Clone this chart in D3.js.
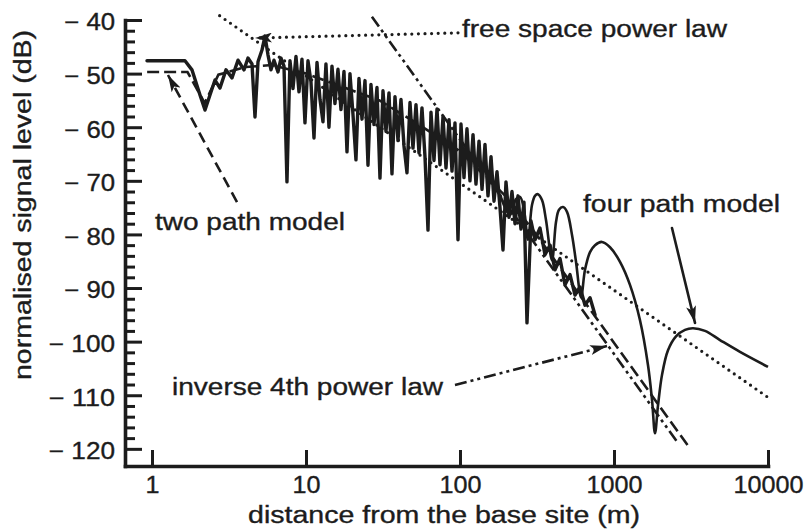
<!DOCTYPE html>
<html><head><meta charset="utf-8">
<script src="https://cdn.jsdelivr.net/npm/d3@7"></script>
<style>body{margin:0;background:#fff}svg{display:block}</style>
</head><body><svg id="c" width="804" height="529"></svg>
<script>
// ---------- data ----------
const measuredDist = [0.928,1.638,1.818,2.05,2.209,2.38,2.565,2.764,3.024,3.307,3.618,3.957,4.201,4.461,4.665,4.879,5.179,5.417,5.665,5.925,6.197,6.579,6.881,7.197,
 7.525,7.870,8.231,8.609,9.004,9.417,9.849,10.30,10.77,11.27,11.79,12.33,12.89,13.48,14.10,14.75,15.42,16.13,16.87,17.65,
 18.46,19.30,20.19,21.11,22.08,23.10,24.16,25.27,26.42,27.64,28.90,30.23,31.62,33.07,34.59,36.17,37.83,39.57,41.38,43.28,
 45.27,47.35,49.52,51.79,54.17,56.65,59.25,61.97,64.81,67.79,70.90,74.15,77.55,81.11,84.83,88.72,92.79,97.05,101.5,106.2,
 111.0,116.1,121.5,127.0,132.9,139.0,145.3,152.0,159.0,166.3,173.9,181.9,190.2,198.9,208.1,217.6,227.6,238.0,248.9,260.4,272.3,
 289.1,306.9,330.7,356.4,384.1,413.9,446.1,480.7,518.0,558.3,601.6,648.3,698.7,752.9];
const measuredLevel = [-47.6,-47.6,-49.3,-54.0,-56.8,-54.0,-51.2,-52.7,-49.3,-50.8,-47.5,-49.3,-47.1,-48.2,-58.1,-47.8,-45.6,-43.0,-46.5,-49.3,-47.5,-49.7,-47.1,-48.6,
 -70.2,-47.6,-52.8,-46.8,-53.4,-47.3,-59.2,-47.6,-51.5,-62.0,-47.9,-54.8,-59.0,-48.2,-60.0,-48.6,-55.6,-49.2,-56.7,-49.6,
 -64.6,-50.0,-57.6,-66.1,-50.9,-58.5,-51.3,-67.1,-52.0,-59.5,-52.6,-69.5,-53.2,-60.8,-53.6,-68.7,-54.3,-62.5,-54.8,-63.5,
 -68.5,-55.4,-63.9,-55.8,-64.8,-56.4,-65.5,-79.2,-57.2,-66.2,-56.6,-67.0,-58.0,-67.6,-58.6,-68.2,-59.2,-81.0,-59.4,-69.4,
 -60.3,-70.0,-61.4,-70.6,-62.6,-71.6,-63.2,-72.8,-65.5,-73.8,-68.3,-75.0,-82.9,-70.2,-76.8,-72.0,-78.0,-72.8,-79.0,-74.0,-96.5,
 -77.5,-81.0,-78.8,-83.8,-82.0,-86.6,-84.5,-89.4,-87.5,-91.3,-89.8,-93.2,-91.8,-95.0];

const fourPathDist = [181.9,211.2,231.0,245.2,260.4,276.4,293.4,306.9,321.0,340.8,361.8,395.7,420.2,439.4,466.6,495.3,533.8,566.6,610.7,648.3,698.7,752.9,835.7,941.9,1094,1270,1475,1663,1766,1846,1931,2050,2242,2527,2891,3258,3899,4879,6579,10000];
const fourPathLevel = [-72.6,-76.4,-73.4,-73.0,-75.4,-81.0,-74.5,-72.8,-72.5,-73.6,-77.3,-84.8,-77.7,-75.4,-74.9,-75.8,-80.1,-85.1,-91.7,-86.6,-83.3,-82.0,-81.4,-82.4,-85.1,-89.4,-96.0,-104.4,-110.9,-117.1,-111.9,-106.2,-101.6,-99.0,-97.8,-97.5,-98.0,-99.7,-101.9,-104.7];

const twoPathDist = [0.93,1.7,2.2,2.7,4,6,10,30,54,100,200,300,3020];
const twoPathLevel = [-49.7,-49.7,-55.5,-50.2,-48.8,-48.4,-50.0,-55.0,-59.5,-64.5,-73.0,-79.3,-119.4];

const freeSpaceDist = [2.75,10000];
const freeSpaceLevel = [-39.2,-110.4];

const inverse4Dist = [26.8,2600];
const inverse4Level = [-39.4,-118.9];

const xTickValues = [1,10,100,1000,10000];
const yTickValues = [-40,-50,-60,-70,-80,-90,-100,-110,-120];
const yMinorTickValues = d3.range(-42,-120,-2).filter(v => v % 10 !== 0);

const annotationText = ["two path model","free space power law","four path model","inverse 4th power law"];
const annotationDist = [1.046,103.0,629.0,1.349];
const annotationLevel = [-79.2,-43.2,-75.8,-110.0];

const arrowFromDist = [3.565,97.05,2380,92.8];
const arrowFromLevel = [-73.96,-42.4,-78.8,-108.1];
const arrowToDist = [1.27,4.665,3357,900.7];
const arrowToLevel = [-50.26,-43.36,-96.5,-100.8];

// ---------- drawing ----------
const ink = "#1c1c1c";
const font = "'Liberation Sans', Arial, Helvetica, sans-serif";
const svg = d3.select("#c");
svg.append("rect").attr("width",804).attr("height",529).attr("fill","#fff");

const x = d3.scaleLog().domain([0.668,10000]).range([125,768]);
const y = d3.scaleLinear().domain([-40,-123.2]).range([20,466]);

const defs = svg.append("defs");
defs.append("marker").attr("id","ah").attr("viewBox","0 0 17 10")
  .attr("refX",17).attr("refY",5).attr("markerWidth",17).attr("markerHeight",10)
  .attr("markerUnits","userSpaceOnUse").attr("orient","auto")
  .append("path").attr("d","M0,0 L17,5 L0,10 L4,5 Z").attr("fill",ink);

const lineGen = d3.line().x(d => x(d[0])).y(d => y(d[1]));
const zip = (a,b) => a.map((v,i) => [v,b[i]]);

// free space (dotted)
svg.append("path").datum(zip(freeSpaceDist,freeSpaceLevel)).attr("d",lineGen)
  .attr("fill","none").attr("stroke",ink).attr("stroke-width",3.2)
  .attr("stroke-linecap","round").attr("stroke-dasharray","0,6.6");
// inverse 4th (dash-dot-dot)
svg.append("path").datum(zip(inverse4Dist,inverse4Level)).attr("d",lineGen)
  .attr("fill","none").attr("stroke",ink).attr("stroke-width",2.6)
  .attr("stroke-dasharray","12,4,3,4,3,4");
// two path model (dashed)
svg.append("path").datum(zip(twoPathDist,twoPathLevel)).attr("d",lineGen)
  .attr("fill","none").attr("stroke",ink).attr("stroke-width",2.6)
  .attr("stroke-dasharray","12,5");
// four path model (solid, smooth)
svg.append("path").datum(zip(fourPathDist,fourPathLevel))
  .attr("d",d3.line().x(d=>x(d[0])).y(d=>y(d[1])).curve(d3.curveCatmullRom.alpha(0.5)))
  .attr("fill","none").attr("stroke",ink).attr("stroke-width",2.6).attr("stroke-linejoin","round");
// measured (jagged, heavy)
svg.append("path").datum(zip(measuredDist,measuredLevel)).attr("d",lineGen)
  .attr("fill","none").attr("stroke",ink).attr("stroke-width",3.4)
  .attr("stroke-linejoin","round").attr("stroke-linecap","round");

// axes
const gx = svg.append("g").attr("transform","translate(0,466)")
  .call(d3.axisBottom(x).tickValues(xTickValues).tickFormat(d3.format("d"))
    .tickSizeInner(-16).tickSizeOuter(0).tickPadding(0));
const gy = svg.append("g").attr("transform","translate(125,0)")
  .call(d3.axisLeft(y).tickValues(yTickValues).tickFormat(d => "\u2212 " + Math.abs(d))
    .tickSizeInner(-17).tickSizeOuter(0).tickPadding(10));
const gyMinor = svg.append("g").attr("transform","translate(125,0)")
  .call(d3.axisLeft(y).tickValues(yMinorTickValues).tickFormat("").tickSizeInner(-10).tickSizeOuter(0));
gyMinor.select(".domain").remove();

[gx,gy,gyMinor].forEach(g => {
  g.selectAll(".domain").attr("stroke",ink).attr("stroke-width",3.6).attr("stroke-linecap","square");
  g.selectAll(".tick line").attr("stroke",ink).attr("stroke-width",3);
});
const textStyle = sel => sel.attr("font-family",font).attr("font-size",23).attr("fill",ink)
  .attr("stroke",ink).attr("stroke-width",0.35).attr("lengthAdjust","spacingAndGlyphs");
gx.selectAll(".tick text").attr("y",27).attr("dy",0).call(textStyle)
  .attr("textLength",d => 14*String(d).length);
gy.selectAll(".tick text").attr("dy","0.43em").call(textStyle)
  .attr("textLength",d => 20 + 15.4*String(Math.abs(d)).length);

// axis titles
svg.append("text").attr("x",444).attr("y",523).attr("text-anchor","middle").call(textStyle)
  .attr("textLength",392).text("distance from the base site (m)");
svg.append("text").attr("transform","translate(31,205) rotate(-90)").attr("text-anchor","middle").call(textStyle)
  .attr("textLength",350).text("normalised signal level (dB)");

// annotations
const annotationWidth = [190,265,197,271];
annotationText.forEach((t,i) => {
  svg.append("text").attr("x",x(annotationDist[i])).attr("y",y(annotationLevel[i])).call(textStyle)
    .attr("textLength",annotationWidth[i]).text(t);
});
const arrowDash = ["11,6","0,6.6",null,"12,4,3,4,3,4"];
const arrowCap = ["butt","round","round","butt"];
const arrowWidth = [2.6,3.2,2.6,2.6];
arrowFromDist.forEach((d,i) => {
  const p = svg.append("line")
    .attr("x1",x(d)).attr("y1",y(arrowFromLevel[i]))
    .attr("x2",x(arrowToDist[i])).attr("y2",y(arrowToLevel[i]))
    .attr("stroke",ink).attr("stroke-width",arrowWidth[i]).attr("stroke-linecap",arrowCap[i])
    .attr("marker-end","url(#ah)");
  if (arrowDash[i]) p.attr("stroke-dasharray",arrowDash[i]);
});
</script></body></html>
